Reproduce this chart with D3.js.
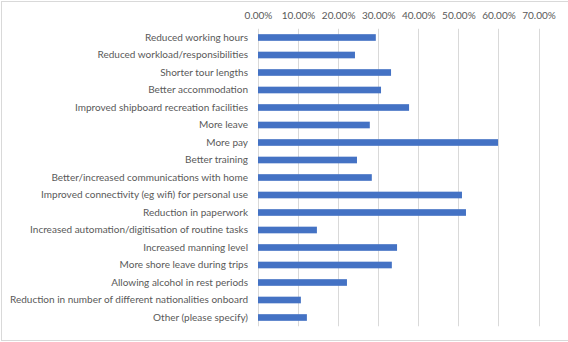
<!DOCTYPE html>
<html><head><meta charset="utf-8">
<script src="https://cdn.jsdelivr.net/npm/d3@7"></script>
<style>body{margin:0;background:#fff;} svg{display:block;}</style>
</head><body>
<svg id="chart" width="568" height="342"></svg>
<script>
const categories = [
  "Reduced working hours",
  "Reduced workload/responsibilities",
  "Shorter tour lengths",
  "Better accommodation",
  "Improved shipboard recreation facilities",
  "More leave",
  "More pay",
  "Better training",
  "Better/increased communications with home",
  "Improved connectivity (eg wifi) for personal use",
  "Reduction in paperwork",
  "Increased automation/digitisation of routine tasks",
  "Increased manning level",
  "More shore leave during trips",
  "Allowing alcohol in rest periods",
  "Reduction in number of different nationalities onboard",
  "Other (please specify)"
];
const values = [0.294, 0.242, 0.332, 0.307, 0.377, 0.279, 0.599, 0.247, 0.284, 0.509, 0.519, 0.147, 0.347, 0.334, 0.222, 0.107, 0.122];
const ticks = [0, 0.1, 0.2, 0.3, 0.4, 0.5, 0.6, 0.7];

const svg = d3.select("#chart");
const W = 568, H = 342;
const m = {left: 258, right: 29.5, top: 28.75, bottom: 15.75};

svg.append("rect").attr("x", 1.5).attr("y", 1.5).attr("width", W + 4).attr("height", H - 3)
  .attr("fill", "#fff").attr("stroke", "#d9d9d9");

const x = d3.scaleLinear().domain([0, 0.7]).range([m.left, W - m.right]);
const y = d3.scaleBand().domain(categories).range([m.top, H - m.bottom]).paddingInner(0.62).paddingOuter(0.31);

const font = "Lato, Carlito, Calibri, sans-serif";

// gridlines
svg.append("g").selectAll("line").data(ticks).join("line")
  .attr("x1", d => Math.round(x(d)) + 0.5).attr("x2", d => Math.round(x(d)) + 0.5)
  .attr("y1", m.top).attr("y2", H - m.bottom)
  .attr("stroke", "#d9d9d9").attr("stroke-width", 1);

// bars
svg.append("g").selectAll("rect").data(values).join("rect")
  .attr("x", x(0))
  .attr("y", (d, i) => y(categories[i]))
  .attr("width", d => x(d) - x(0))
  .attr("height", y.bandwidth())
  .attr("fill", "#4472C4");

// top axis
const xAxis = d3.axisTop(x).tickValues(ticks).tickFormat(d3.format(".2%")).tickSize(0).tickPadding(0);
const gx = svg.append("g").attr("transform", `translate(0,19)`).call(xAxis);
gx.select(".domain").remove();
gx.selectAll("text").attr("fill", "#595959").style("font-family", font).style("font-size", "10px");

// left axis
const yAxis = d3.axisLeft(y).tickSize(0).tickPadding(10);
const gy = svg.append("g").attr("transform", `translate(${m.left},0)`).call(yAxis);
gy.select(".domain").remove();
gy.selectAll("text").attr("fill", "#595959").style("font-family", font).style("font-size", "10px");
</script>
</body></html>
